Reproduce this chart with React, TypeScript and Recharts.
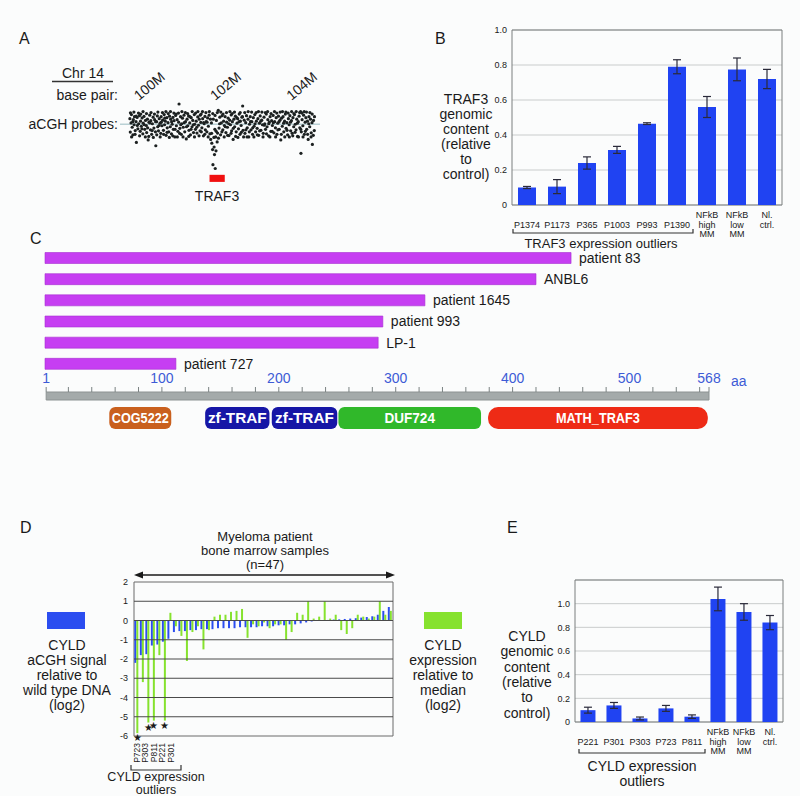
import React from 'react';
import {
  ScatterChart,
  Scatter,
  BarChart,
  Bar,
  XAxis,
  YAxis,
  CartesianGrid,
  ReferenceArea,
  ReferenceLine,
  ErrorBar,
  LabelList,
} from 'recharts';

const FONT = '"Liberation Sans", Arial, Helvetica, sans-serif';
const INK = '#1a1a1a';

// ---------- A: chr14 aCGH probes (Mb, log2 ratio)
const chrTicks = [100, 102, 104];
const traf3Locus = [101.85, 102.25];
const probes: [number, number][] = [
  [99.76, 0.22], [99.77, -0.31], [99.79, 0.05], [99.8, 0.38], [99.82, -0.12], [99.84, -0.42], [99.85, 0.18], [99.87, -0.02],
  [99.88, 0.3], [99.9, -0.25], [99.92, 0.1], [99.93, -0.72], [99.95, 0.27], [99.97, -0.18], [99.99, 0.02],
  [100.01, 0.34], [100.03, -0.28], [100.04, 0.12], [100.06, -0.08], [100.08, 0.25], [100.1, -0.38], [100.11, 0.04],
  [100.13, 0.31], [100.15, -0.2], [100.17, 0.15], [100.19, -0.05], [100.2, -0.33], [100.22, 0.2], [100.24, -0.62],
  [100.26, 0.08], [100.28, 0.36], [100.3, -0.22], [100.31, 0.14], [100.33, -0.4], [100.35, 0.02], [100.37, 0.28],
  [100.39, -0.15], [100.41, 0.18], [100.43, -0.3], [100.44, -0.85], [100.46, 0.1], [100.48, 0.33], [100.49, -0.1],
  [100.51, -0.26], [100.53, 0.22], [100.55, 0.04], [100.57, -0.36], [100.58, 0.3], [100.6, -0.06], [100.62, 0.16],
  [100.64, -0.24], [100.66, 0.38], [100.67, -0.02], [100.69, 0.12], [100.71, -0.44], [100.73, 0.26], [100.74, -0.14],
  [100.76, 0.06], [100.78, -0.3], [100.8, 0.32], [100.82, -0.1], [100.83, 0.2], [100.85, -0.38], [100.87, 0.0],
  [100.89, 0.27], [100.9, -0.2], [100.92, 0.14], [100.94, -0.5], [100.96, 0.35], [100.98, -0.06],
  [101.0, 0.18], [101.02, -0.28], [101.04, 0.08], [101.05, 0.8], [101.07, -0.16], [101.09, 0.3], [101.11, -0.4],
  [101.12, 0.02], [101.14, 0.24], [101.16, -0.12], [101.18, 0.36], [101.2, -0.3], [101.22, 0.1], [101.24, -0.58],
  [101.26, 0.2], [101.28, -0.06], [101.3, 0.33], [101.31, -0.24], [101.33, 0.05], [101.35, -0.42], [101.37, 0.26],
  [101.39, -0.1], [101.41, 0.15], [101.43, -0.33], [101.45, 0.38], [101.46, 0.0], [101.48, -0.2],
  [101.5, 0.12], [101.52, -0.35], [101.54, 0.29], [101.56, -0.04], [101.58, 0.2], [101.6, -0.26], [101.62, 0.07],
  [101.63, 0.4], [101.65, -0.14], [101.67, 0.22], [101.69, -0.46], [101.71, 0.02], [101.73, 0.31], [101.74, -0.22],
  [101.76, 0.1], [101.78, -0.3], [101.8, 0.25], [101.82, -0.08], [101.84, 0.36], [101.86, -0.38], [101.88, -0.6],
  [101.9, 0.05], [101.91, -0.75], [101.93, -1.0], [101.94, -1.6], [101.95, 0.2], [101.97, -0.9], [101.98, -1.2], [101.99, -0.2],
  [102.0, -1.75], [102.01, -0.5], [102.02, -1.05], [102.03, 0.15], [102.05, -0.7], [102.06, -0.35], [102.08, 0.55],
  [102.1, -0.15], [102.12, 0.28], [102.14, -0.42], [102.16, 0.05], [102.18, 0.34], [102.2, -0.22], [102.22, 0.12], [102.24, -0.05],
  [102.26, 0.3], [102.28, -0.33], [102.3, 0.08], [102.32, -0.12], [102.34, 0.24], [102.36, -0.45], [102.38, 0.16],
  [102.4, -0.02], [102.42, 0.37], [102.43, -0.26], [102.45, 0.1], [102.47, -0.6], [102.49, 0.2],
  [102.51, -0.1], [102.53, 0.32], [102.55, -0.3], [102.57, 0.04], [102.59, 0.22], [102.61, -0.18], [102.63, 0.4],
  [102.65, -0.4], [102.66, 0.12], [102.68, -0.05], [102.7, 0.28], [102.72, 0.72], [102.73, -0.24],
  [102.76, 0.16], [102.78, -0.36], [102.8, 0.06], [102.82, 0.34], [102.84, -0.14], [102.86, 0.2], [102.88, -0.5],
  [102.9, 0.0], [102.92, 0.3], [102.94, -0.22], [102.96, 0.1], [102.98, -0.4],
  [103.0, 0.26], [103.02, -0.08], [103.04, 0.38], [103.06, -0.3], [103.08, 0.12], [103.1, -0.16], [103.12, 0.22],
  [103.14, -0.44], [103.16, 0.04], [103.18, 0.33], [103.2, -0.24], [103.22, 0.16], [103.24, -0.02],
  [103.26, -0.36], [103.28, 0.28], [103.3, 0.02], [103.32, -0.2], [103.34, 0.4], [103.36, -0.1], [103.38, 0.18],
  [103.4, -0.46], [103.42, 0.08], [103.44, 0.3], [103.46, -0.28], [103.48, 0.14],
  [103.5, -0.05], [103.52, 0.35], [103.54, -0.34], [103.56, 0.1], [103.58, -0.14], [103.6, 0.26], [103.62, -0.4],
  [103.64, 0.04], [103.66, 0.32], [103.68, -0.2], [103.7, 0.16], [103.72, -0.62], [103.74, 0.24],
  [103.76, -0.08], [103.78, 0.3], [103.8, -0.3], [103.82, 0.12], [103.84, 0.4], [103.86, -0.16], [103.88, 0.06],
  [103.9, -0.42], [103.92, 0.22], [103.94, -0.02], [103.96, 0.34], [103.98, -0.26],
  [104.0, 0.14], [104.02, -0.36], [104.04, 0.26], [104.06, -0.1], [104.08, 0.38], [104.1, 0.0], [104.12, -0.22],
  [104.14, 0.2], [104.16, -0.48], [104.18, 0.1], [104.2, 0.32], [104.22, -0.14], [104.24, 0.5], [104.25, -1.15],
  [104.26, -0.3], [104.28, 0.18], [104.3, -0.06], [104.32, 0.36], [104.34, -0.4], [104.36, 0.08], [104.38, 0.26],
  [104.4, -0.2], [104.42, 0.12], [104.44, -0.6], [104.46, 0.3], [104.48, -0.1], [104.5, 0.2], [104.52, -0.34],
  [104.54, 0.06], [104.55, -0.8], [104.58, 0.15], [104.6, -0.25],
  [99.775, 0.45], [99.805, -0.5], [99.835, 0.1], [99.865, 0.48], [99.895, -0.4], [99.925, 0.32], [99.955, -0.05], [99.985, 0.44],
  [100.015, -0.46], [100.045, 0.4], [100.075, -0.18], [100.105, 0.5], [100.135, -0.02], [100.165, -0.5], [100.195, 0.42],
  [100.225, -0.14], [100.255, -0.48], [100.285, 0.05], [100.315, 0.46], [100.345, -0.25], [100.375, -0.52], [100.405, 0.4],
  [100.435, 0.1], [100.465, -0.42], [100.495, 0.48], [100.525, -0.05], [100.555, -0.5], [100.585, 0.08], [100.615, 0.46],
  [100.645, -0.4], [100.675, 0.24], [100.705, 0.5], [100.735, -0.32], [100.765, 0.42], [100.795, -0.52], [100.825, 0.5],
  [100.855, 0.1], [100.885, -0.46], [100.915, 0.44], [100.945, -0.2], [100.975, 0.4], [101.005, -0.5], [101.035, 0.44],
  [101.065, -0.36], [101.095, -0.02], [101.125, 0.5], [101.155, -0.5], [101.185, 0.06], [101.215, 0.46], [101.245, -0.1],
  [101.275, 0.42], [101.305, -0.48], [101.335, 0.3], [101.365, -0.2], [101.395, 0.5], [101.425, -0.02], [101.455, -0.5],
  [101.485, 0.44], [101.515, -0.12], [101.545, 0.5], [101.575, -0.46], [101.605, 0.36], [101.635, -0.3], [101.665, 0.5],
  [101.695, 0.06], [101.725, -0.4], [101.755, 0.46], [101.785, 0.08], [101.815, -0.5], [101.845, 0.5], [101.875, 0.2],
  [101.905, -0.36], [101.935, 0.42], [101.965, -0.52], [101.995, 0.35], [102.025, -0.28], [102.055, 0.46], [102.085, -0.55],
  [102.115, 0.02], [102.145, 0.48], [102.175, -0.3], [102.205, 0.4], [102.235, -0.5], [102.265, -0.1], [102.295, 0.46],
  [102.325, -0.44], [102.355, 0.02], [102.385, 0.5], [102.415, -0.36], [102.445, 0.42], [102.475, -0.16], [102.505, 0.48],
  [102.535, -0.48], [102.565, 0.26], [102.595, -0.52], [102.625, 0.1], [102.655, 0.46], [102.685, -0.32], [102.715, 0.3],
  [102.745, -0.5], [102.775, 0.46], [102.805, -0.22], [102.835, -0.5], [102.865, 0.5], [102.895, -0.3], [102.925, 0.1],
  [102.955, 0.48], [102.985, -0.14], [103.015, -0.5], [103.045, 0.02], [103.075, 0.46], [103.105, -0.42], [103.135, 0.5],
  [103.165, -0.26], [103.195, 0.12], [103.225, 0.48], [103.255, -0.5], [103.285, -0.04], [103.315, 0.46], [103.345, -0.38],
  [103.375, 0.5], [103.405, 0.02], [103.435, -0.5], [103.465, 0.42], [103.495, -0.28], [103.525, 0.06], [103.555, 0.5],
  [103.585, -0.5], [103.615, 0.44], [103.645, -0.22], [103.675, 0.1], [103.705, 0.48], [103.735, -0.4], [103.765, 0.5],
  [103.795, 0.04], [103.825, -0.5], [103.855, 0.48], [103.885, -0.24], [103.915, 0.44], [103.945, -0.5], [103.975, 0.08],
  [104.005, 0.5], [104.035, -0.46], [104.065, 0.42], [104.095, -0.32], [104.125, 0.5], [104.155, 0.04], [104.185, -0.5],
  [104.215, 0.46], [104.245, -0.2], [104.275, 0.44], [104.305, -0.5], [104.335, 0.5], [104.365, -0.28], [104.395, 0.48],
  [104.425, -0.4], [104.455, 0.02], [104.485, 0.46], [104.515, -0.5], [104.545, 0.4], [104.575, -0.44], [104.605, 0.3],
];

// ---------- B: TRAF3 genomic content
const trafSamples = ['P1374', 'P1173', 'P365', 'P1003', 'P993', 'P1390', 'NFkB\nhigh\nMM', 'NFkB\nlow\nMM', 'Nl.\nctrl.'];
const trafContent = [0.1, 0.105, 0.24, 0.315, 0.465, 0.79, 0.56, 0.775, 0.72];
const trafError = [0.006, 0.04, 0.035, 0.02, 0.005, 0.04, 0.06, 0.065, 0.055];
const unitTicks = [0, 0.2, 0.4, 0.6, 0.8, 1.0];

// ---------- C: TRAF3 truncations and domains (aa)
const truncNames = ['patient 83', 'ANBL6', 'patient 1645', 'patient 993', 'LP-1', 'patient 727'];
const truncLength = [450, 420, 325, 289, 285, 112];
const aaTicks = [1, 100, 200, 300, 400, 500, 568];
const aaMinorTicks = [20, 40, 60, 80, 120, 140, 160, 180, 220, 240, 260, 280, 320, 340, 360, 380, 420, 440, 460, 480, 520, 540, 560];
const domainNames = ['COG5222', 'zf-TRAF', 'zf-TRAF', 'DUF724', 'MATH_TRAF3'];
const domainStart = [55, 137, 194, 251, 379];
const domainEnd = [108, 192, 250, 373, 567];
const domainColors = ['#c9601e', '#1616a6', '#1616a6', '#30b82a', '#ee2b16'];

// ---------- D: CYLD aCGH vs expression, 47 patients
const cyldAcgh = [
  -2.2, -1.8, -1.75, -1.3, -1.25, -1.1, -0.95, -0.6, -0.55, -0.55, -0.5, -0.5, -0.45, -0.45, -0.45, -0.4,
  -0.4, -0.4, -0.4, -0.35, -0.35, -0.35, -0.35, -0.3, -0.3, -0.3, -0.25, -0.25, -0.2, -0.2, -0.15, -0.1,
  -0.05, -0.02, 0.02, 0.03, 0.05, 0.06, 0.08, 0.1, 0.12, 0.15, 0.18, 0.22, 0.3, 0.5, 0.7,
];
const cyldExpr = [
  -5.85, -3.2, -5.3, -5.2, -1.8, -5.2, 0.4, -0.3, -0.8, -2.1, -0.6, -0.3, -1.5, -0.5, 0.2, 0.3,
  0.3, 0.45, 0.5, 0.6, -0.9, -0.2, -0.3, -0.1, -0.4, -0.2, -0.2, -1.0, -0.6, 0.4, 0.3, 1.0,
  0.1, 0.2, 1.0, 0.1, 0.3, -0.5, -0.7, -0.4, 0.3, 0.2, 0.1, 0.2, 1.0, 0.3, 0.5,
];
const starredSamples = [1, 3, 4, 6];
const outlierIds = ['P723', 'P303', 'P811', 'P221', 'P301'];
const log2Ticks = [-6, -5, -4, -3, -2, -1, 0, 1, 2];

// ---------- E: CYLD genomic content
const cyldSamples = ['P221', 'P301', 'P303', 'P723', 'P811', 'NFkB\nhigh\nMM', 'NFkB\nlow\nMM', 'Nl.\nctrl.'];
const cyldContent = [0.1, 0.14, 0.03, 0.115, 0.045, 1.04, 0.93, 0.84];
const cyldError = [0.025, 0.025, 0.012, 0.025, 0.015, 0.1, 0.07, 0.06];

const probeData = probes.map(([mb, v]) => ({ mb, v }));
const trafData = trafSamples.map((name, i) => ({ name, value: trafContent[i], err: trafError[i] }));
const truncData = truncNames.map((name, i) => ({ name, len: truncLength[i] }));
const cyldD = cyldAcgh.map((acgh, i) => ({
  id: i + 1,
  acgh,
  expr: cyldExpr[i],
  star: starredSamples.includes(i + 1) ? 1 : 0,
}));
const cyldE = cyldSamples.map((name, i) => ({ name, value: cyldContent[i], err: cyldError[i] }));
const rulerTicks = [...aaTicks, ...aaMinorTicks].sort((a, b) => a - b);
// anchors so the protein-scale charts have a series to hang their axes on
const aaFrame = [
  { x: 0, y: 0 },
  { x: 568, y: 1 },
];

const fmtUnit = (v: number) => (v === 0 ? '0' : v.toFixed(1));

const ChrTick = ({ x, y, payload }: any) => (
  <text x={x} y={y} transform={`rotate(-40 ${x} ${y})`} fontSize={14} fill={INK} fontFamily={FONT}>
    {payload.value}M
  </text>
);

const StackedTick = ({ x, y, payload }: any) => {
  const lines = String(payload.value).split('\n');
  const first = lines.length === 1 ? 1 : 0;
  return (
    <g>
      {lines.map((t, i) => (
        <text key={i} x={x} y={y + 13 + (first + i) * 9.5} textAnchor="middle" fontSize={9} fill={INK} fontFamily={FONT}>
          {t}
        </text>
      ))}
    </g>
  );
};

const RulerTick = ({ x, y, payload }: any) => (
  <g>
    <line x1={x} x2={x} y1={y} y2={y - 5} stroke="#7a8282" />
    {aaTicks.includes(payload.value) && (
      <text x={x} y={y - 9} textAnchor="middle" fontSize={14} fill="#3d5bd6" fontFamily={FONT}>
        {payload.value}
      </text>
    )}
  </g>
);

const StarMark = (p: any) => {
  if (!p.value) return null;
  const bottom = Math.max(p.y, p.y + p.height);
  return (
    <text x={p.x + p.width / 2} y={bottom + 8} textAnchor="middle" fontSize={10} fill={INK}>
      ★
    </text>
  );
};

const domainShape = (name: string, color: string) => (p: any) => {
  const fs = 14;
  const natural = name.length * fs * 0.6;
  const tl = Math.min(p.width - 5, natural);
  return (
    <g>
      <rect x={p.x} y={p.y} width={p.width} height={p.height} rx={name === 'MATH_TRAF3' ? 10 : 6} fill={color} />
      <text
        x={p.x + p.width / 2}
        y={p.y + p.height / 2 + 5}
        textAnchor="middle"
        fontSize={fs}
        fontWeight="bold"
        fill="#fff"
        fontFamily={FONT}
        textLength={tl}
        lengthAdjust="spacingAndGlyphs"
      >
        {name}
      </text>
    </g>
  );
};

const Box = ({ left, top, children }: any) => (
  <div style={{ position: 'absolute', left, top }}>{children}</div>
);

const Lines = ({ x, y, step, items, size = 14 }: any) => (
  <>
    {items.map((t: string, i: number) => (
      <text key={i} x={x} y={y + i * step} textAnchor="middle" fontSize={size} fill={INK}>
        {t}
      </text>
    ))}
  </>
);

export default function App() {
  return (
    <div
      style={{
        position: 'absolute',
        left: 0,
        top: 0,
        width: 800,
        height: 796,
        background: '#fbfcfc',
        fontFamily: FONT,
        overflow: 'hidden',
      }}
    >
      {/* A */}
      <Box left={0} top={0}>
        <ScatterChart width={400} height={220} margin={{ top: 74, right: 80, bottom: 30, left: 120 }}>
          <XAxis
            type="number"
            dataKey="mb"
            domain={[99.5, 104.75]}
            orientation="top"
            ticks={chrTicks}
            height={30}
            axisLine={false}
            tickLine={false}
            tickSize={0}
            tickMargin={3}
            tick={ChrTick}
          />
          <YAxis type="number" dataKey="v" domain={[-2.6, 0.8]} hide />
          <Scatter
            data={probeData}
            isAnimationActive={false}
            shape={(p: any) => <circle cx={p.cx} cy={p.cy} r={1.6} fill="#1c2121" />}
          />
          <ReferenceLine y={0} stroke="#a9c6ca" strokeWidth={1.6} strokeOpacity={0.8} />
          <ReferenceArea x1={traf3Locus[0]} x2={traf3Locus[1]} y1={-2.28} y2={-2.0} fill="#f01010" fillOpacity={1} />
        </ScatterChart>
      </Box>

      {/* B */}
      <Box left={400} top={0}>
        <BarChart width={400} height={262} data={trafData} margin={{ top: 30, right: 18, bottom: 17, left: 88 }} barCategoryGap="20%">
          <CartesianGrid vertical={false} stroke="#c9cccc" />
          <XAxis dataKey="name" interval={0} height={40} axisLine={false} tickLine={false} tickSize={0} tickMargin={0} tick={StackedTick} />
          <YAxis
            domain={[0, 1]}
            ticks={unitTicks}
            width={24}
            axisLine={false}
            tickLine={false}
            tickSize={0}
            tickMargin={5}
            tickFormatter={fmtUnit}
            tick={{ fontSize: 9, fill: INK }}
          />
          <ReferenceArea y1={0} y2={1} fill="none" stroke="#7b7f7f" />
          <Bar dataKey="value" fill="#2043f2" isAnimationActive={false}>
            <ErrorBar dataKey="err" width={4} stroke="#2a2a3a" strokeWidth={1.2} />
          </Bar>
        </BarChart>
      </Box>

      {/* C: truncated proteins */}
      <Box left={0} top={240}>
        <BarChart
          width={800}
          height={140}
          data={truncData}
          layout="vertical"
          margin={{ top: 7.5, right: 91, bottom: 5.5, left: 45 }}
          barSize={11}
        >
          <XAxis type="number" domain={[0, 568]} hide />
          <YAxis type="category" dataKey="name" hide />
          <Bar dataKey="len" fill="#c63ef2" stroke="#a62fd0" strokeWidth={0.6} isAnimationActive={false}>
            <LabelList dataKey="name" position="right" offset={8} fontSize={14} fill={INK} fontFamily={FONT} />
          </Bar>
        </BarChart>
      </Box>

      {/* C: ruler */}
      <Box left={0} top={366}>
        <ScatterChart width={800} height={36} margin={{ top: 0, right: 91, bottom: 2, left: 45 }}>
          <XAxis
            type="number"
            dataKey="x"
            domain={[0, 568]}
            orientation="top"
            ticks={rulerTicks}
            interval={0}
            height={26}
            axisLine={false}
            tickLine={false}
            tickSize={0}
            tickMargin={0}
            tick={RulerTick}
          />
          <YAxis type="number" dataKey="y" domain={[0, 1]} hide />
          <Scatter data={aaFrame} isAnimationActive={false} shape={() => <g />} />
          <ReferenceArea x1={1} x2={568} y1={0} y2={1} fill="#a4aaaa" fillOpacity={1} stroke="#8c9292" />
        </ScatterChart>
      </Box>

      {/* C: domains */}
      <Box left={0} top={404}>
        <ScatterChart width={800} height={28} margin={{ top: 3, right: 91, bottom: 3, left: 45 }}>
          <XAxis type="number" dataKey="x" domain={[0, 568]} hide />
          <YAxis type="number" dataKey="y" domain={[0, 1]} hide />
          <Scatter data={aaFrame} isAnimationActive={false} shape={() => <g />} />
          {domainNames.map((name, i) => (
            <ReferenceArea
              key={i}
              x1={domainStart[i]}
              x2={domainEnd[i]}
              y1={0}
              y2={1}
              fill={domainColors[i]}
              shape={domainShape(name, domainColors[i])}
            />
          ))}
        </ScatterChart>
      </Box>

      {/* D */}
      <Box left={100} top={560}>
        <BarChart width={330} height={200} data={cyldD} margin={{ top: 22, right: 13, bottom: 24, left: 10 }} barCategoryGap="6%" barGap={0}>
          <XAxis dataKey="id" hide />
          <YAxis
            yAxisId="l"
            domain={[-6, 2]}
            ticks={log2Ticks}
            interval={0}
            width={24}
            axisLine={false}
            tickLine={false}
            tickSize={0}
            tickMargin={6}
            tick={{ fontSize: 9, fill: INK }}
          />
          <YAxis
            yAxisId="r"
            orientation="right"
            domain={[-6, 2]}
            ticks={log2Ticks}
            interval={0}
            width={24}
            axisLine={false}
            tickLine={false}
            tickSize={0}
            tickMargin={4}
            tick={{ fontSize: 9, fill: INK }}
          />
          {log2Ticks.slice(1, -1).map((t) => (
            <ReferenceLine key={t} yAxisId="l" y={t} stroke="#4a4a4a" strokeWidth={1} />
          ))}
          <ReferenceArea yAxisId="l" y1={-6} y2={2} fill="none" stroke="#6a6a6a" />
          <Bar yAxisId="l" dataKey="acgh" fill="#2b4df0" isAnimationActive={false} />
          <Bar yAxisId="l" dataKey="expr" fill="#86e22e" isAnimationActive={false}>
            <LabelList dataKey="star" content={StarMark} />
          </Bar>
        </BarChart>
      </Box>

      {/* E */}
      <Box left={520} top={570}>
        <BarChart width={280} height={200} data={cyldE} margin={{ top: 10, right: 17, bottom: 18, left: 33 }} barCategoryGap="21%">
          <CartesianGrid vertical={false} stroke="#c9cccc" />
          <XAxis dataKey="name" interval={0} height={30} axisLine={false} tickLine={false} tickSize={0} tickMargin={0} tick={StackedTick} />
          <YAxis
            domain={[0, 1.2]}
            ticks={unitTicks}
            width={22}
            axisLine={false}
            tickLine={false}
            tickSize={0}
            tickMargin={5}
            tickFormatter={fmtUnit}
            tick={{ fontSize: 9, fill: INK }}
          />
          <ReferenceArea y1={0} y2={1.2} fill="none" stroke="#7b7f7f" />
          <Bar dataKey="value" fill="#2043f2" isAnimationActive={false}>
            <ErrorBar dataKey="err" width={4} stroke="#2a2a3a" strokeWidth={1.2} />
          </Bar>
        </BarChart>
      </Box>

      {/* annotations */}
      <svg
        width={800}
        height={796}
        style={{ position: 'absolute', left: 0, top: 0, pointerEvents: 'none' }}
        fontFamily={FONT}
      >
        {/* A */}
        <text x={19} y={44} fontSize={16} fill={INK}>A</text>
        <text x={83} y={78} textAnchor="middle" fontSize={14} fill={INK}>Chr 14</text>
        <line x1={52} x2={113} y1={81.5} y2={81.5} stroke="#333" strokeWidth={1.3} />
        <text x={118} y={100} textAnchor="end" fontSize={14} fill={INK}>base pair:</text>
        <text x={118} y={129} textAnchor="end" fontSize={14} fill={INK}>aCGH probes:</text>
        <text x={217} y={201} textAnchor="middle" fontSize={14} fill={INK}>TRAF3</text>

        {/* B */}
        <text x={435} y={44} fontSize={16} fill={INK}>B</text>
        <Lines x={466} y={104} step={15} items={['TRAF3', 'genomic', 'content', '(relative', 'to', 'control)']} />
        <path d="M513 229 V233 H693 V229" fill="none" stroke="#333" strokeWidth={1.2} />
        <text x={601} y={247.5} textAnchor="middle" fontSize={13} fill={INK}>TRAF3 expression outliers</text>

        {/* C */}
        <text x={30} y={244} fontSize={16} fill={INK}>C</text>
        <text x={731} y={386} fontSize={14} fill="#3d5bd6">aa</text>

        {/* D */}
        <text x={20} y={533} fontSize={16} fill={INK}>D</text>
        <Lines x={265} y={541} step={14} size={13} items={['Myeloma patient', 'bone marrow samples', '(n=47)']} />
        <line x1={141} x2={388} y1={575} y2={575} stroke={INK} strokeWidth={1.3} />
        <polygon points="134,575 143,571.5 143,578.5" fill={INK} />
        <polygon points="395,575 386,571.5 386,578.5" fill={INK} />
        <rect x={47} y={612} width={38} height={17} fill="#2b4df0" />
        <Lines x={67} y={650} step={15} items={['CYLD', 'aCGH signal', 'relative to', 'wild type DNA', '(log2)']} />
        <rect x={424} y={612} width={38} height={17} fill="#86e22e" />
        <Lines x={443} y={650} step={15} items={['CYLD', 'expression', 'relative to', 'median', '(log2)']} />
        {outlierIds.map((id, i) => (
          <text
            key={id}
            x={0}
            y={0}
            transform={`translate(${140 + i * 8.4} 743) rotate(-90)`}
            textAnchor="end"
            fontSize={8.5}
            fill={INK}
          >
            {id}
          </text>
        ))}
        <path d="M131 765 V770 H181 V765" fill="none" stroke="#333" strokeWidth={1.2} />
        <Lines x={156} y={781} step={12.5} size={12.5} items={['CYLD expression', 'outliers']} />

        {/* E */}
        <text x={507} y={533} fontSize={16} fill={INK}>E</text>
        <Lines x={527} y={641} step={15.3} items={['CYLD', 'genomic', 'content', '(relative', 'to', 'control)']} />
        <path d="M579 749 V753 H705 V749" fill="none" stroke="#333" strokeWidth={1.2} />
        <Lines x={642} y={771} step={15} items={['CYLD expression', 'outliers']} />
      </svg>
    </div>
  );
}
